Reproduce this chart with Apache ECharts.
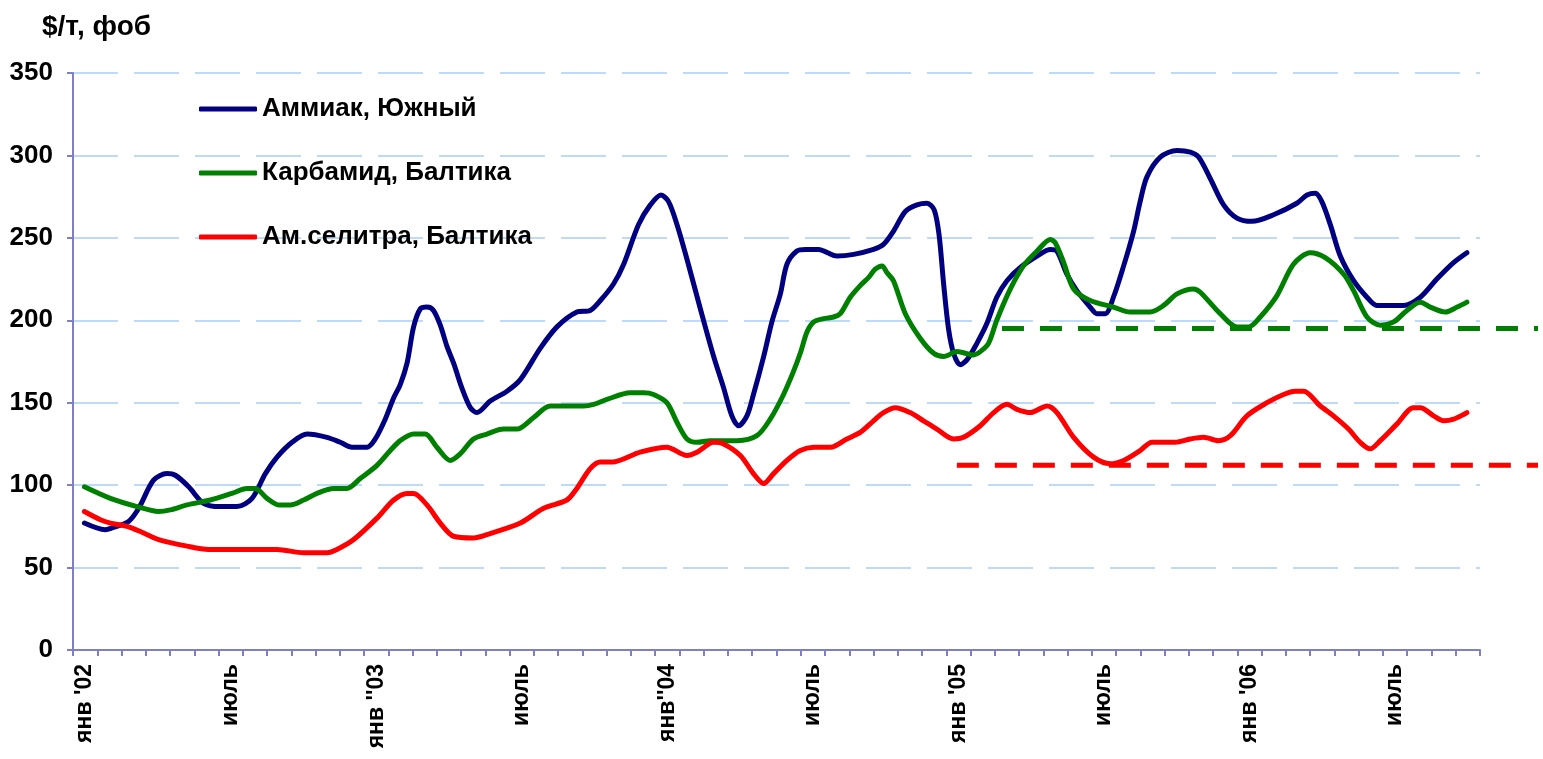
<!DOCTYPE html>
<html>
<head>
<meta http-equiv="content-type" content="text/html; charset=utf-8"/>
<title>Цены на азотные удобрения</title>
<style type="text/css">
    html, body { margin: 0; padding: 0; background: #fff; }
    #chart { width: 1543px; height: 759px; }
</style>
<script type="text/javascript" src="https://cdn.jsdelivr.net/npm/echarts@6/dist/echarts.min.js"></script>
</head>
<body>
<div id="chart"></div>
<script>
    // month categories Jan'02 .. Oct'06, only some are labelled
    var monthLabels = [
        "янв '02", "", "", "", "", "", "июль", "", "", "", "", "",
        "янв ''03", "", "", "", "", "", "июль", "", "", "", "", "",
        "янв''04", "", "", "", "", "", "июль", "", "", "", "", "",
        "янв '05", "", "", "", "", "", "июль", "", "", "", "", "",
        "янв '06", "", "", "", "", "", "июль", "", "", ""
    ];
    var yTicks = [0, 50, 100, 150, 200, 250, 300, 350];
    var seriesNames = ["Аммиак, Южный", "Карбамид, Балтика", "Ам.селитра, Балтика"];

    // [months since start of Jan'02, $/t]
    var ammonia = [
        [0.47,77],[1.33,73],[1.6,74],[2.29,78],[2.71,86],[3.32,103],[3.87,107],[4.22,106],[4.77,99],
        [5.38,89],[6.07,87],[6.76,87],[7.38,92],[7.93,107],[8.41,117],[9.03,126],[9.65,131],[10.47,129],
        [11.02,126],[11.5,123],[12.12,123],[12.46,128],[12.87,140],[13.22,153],[13.49,161],[13.77,174],
        [14.04,196],[14.32,207],[14.59,208],[14.86,206],[15.14,197],[15.42,184],[15.69,174],[16.03,159],
        [16.38,147],[16.65,144],[17.2,151],[17.89,157],[18.44,164],[19.26,183],[19.95,196],[20.77,205],
        [21.32,206],[21.74,212],[22.28,222],[22.7,234],[23.31,258],[23.8,270],[24.24,276],[24.55,272],
        [24.9,258],[25.31,237],[25.86,207],[26.41,178],[26.82,159],[27.16,142],[27.44,136],[27.78,142],
        [28.05,155],[28.47,178],[28.81,199],[29.16,216],[29.43,234],[29.84,242],[30.2,243],[30.73,243],
        [31.49,239],[32.18,240],[33.0,243],[33.41,246],[33.82,254],[34.31,266],[34.79,270],[35.2,271],
        [35.5,267],[35.7,252],[35.89,222],[36.09,195],[36.3,180],[36.57,173],[36.85,176],[37.26,186],
        [37.67,198],[38.08,214],[38.5,224],[39.05,232],[39.74,239],[40.29,243],[40.56,242],[40.97,228],
        [41.38,218],[41.93,208],[42.21,204],[42.55,204],[42.89,214],[43.31,233],[43.72,254],[43.99,272],
        [44.27,287],[44.82,299],[45.51,303],[46.06,302],[46.4,299],[46.88,286],[47.43,270],[47.98,262],
        [48.6,260],[49.49,264],[50.45,271],[50.87,276],[51.21,277],[51.48,272],[51.83,258],[52.24,239],
        [52.79,224],[53.34,214],[53.75,209],[54.85,209],[55.54,214],[56.22,225],[56.91,235],[57.46,241]
    ];
    var urea = [
        [0.47,99],[1.54,92],[2.64,87],[3.53,84],[4.01,85],[4.7,88],[5.66,91],[6.55,95],[7.17,98],
        [7.51,98],[8.0,92],[8.48,88],[8.96,88],[9.51,91],[10.06,95],[10.74,98],[11.29,98],[11.84,104],
        [12.53,112],[13.08,121],[13.49,127],[14.04,131],[14.52,131],[15.0,123],[15.55,115],[15.96,119],
        [16.51,128],[17.06,131],[17.75,134],[18.3,134],[18.99,141],[19.67,148],[21.05,148],[21.46,149],
        [22.01,152],[22.97,156],[23.52,156],[23.93,155],[24.48,150],[24.9,138],[25.31,128],[25.72,126],
        [26.27,127],[27.37,127],[28.19,130],[28.74,140],[29.29,155],[29.7,169],[29.98,180],[30.26,193],
        [30.53,199],[30.94,201],[31.35,202],[31.63,204],[32.04,214],[32.45,221],[32.8,226],[33.07,231],
        [33.35,233],[33.55,229],[33.82,224],[34.31,204],[34.93,189],[35.48,180],[35.89,178],[36.44,181],
        [37.12,179],[37.4,181],[37.74,186],[38.08,200],[38.64,219],[39.18,233],[39.74,242],[40.29,249],
        [40.49,247],[40.84,235],[41.25,219],[41.93,212],[42.89,208],[43.58,205],[44.4,205],[44.96,209],
        [45.51,216],[46.19,219],[46.47,217],[47.29,204],[47.98,196],[48.46,196],[48.94,202],[49.63,215],
        [50.31,234],[51.0,241],[51.62,238],[52.38,228],[52.79,218],[53.34,202],[53.89,197],[54.44,199],
        [54.99,206],[55.54,211],[55.95,208],[56.57,205],[57.06,208],[57.46,211]
    ];
    var nitrate = [
        [0.47,84],[1.13,79],[1.54,77],[2.23,75],[2.91,71],[3.53,67],[4.7,63],[5.59,61],[8.41,61],
        [9.51,59],[10.47,59],[10.88,61],[11.57,67],[12.53,80],[13.22,91],[13.77,95],[14.04,95],[14.59,88],
        [15.14,77],[15.69,69],[16.51,68],[17.06,70],[18.44,77],[19.4,86],[20.36,91],[20.77,98],[21.32,110],
        [21.74,114],[22.22,114],[23.38,120],[24.48,123],[25.31,118],[25.72,120],[26.41,126],[26.82,125],
        [27.51,118],[28.05,107],[28.47,101],[28.88,107],[29.43,115],[29.98,121],[30.53,123],[31.22,123],
        [31.9,128],[32.45,132],[33.0,139],[33.41,144],[33.9,147],[34.51,144],[35.06,139],[35.61,134],
        [36.3,128],[36.71,129],[37.4,136],[37.95,144],[38.5,149],[38.91,146],[39.46,144],[40.15,148],
        [40.56,144],[41.25,129],[42.07,117],[42.76,113],[43.31,115],[43.99,121],[44.48,126],[45.44,126],
        [46.06,128],[46.6,129],[47.22,127],[47.71,130],[48.39,142],[49.22,150],[49.9,155],[50.38,157],
        [50.73,157],[51.42,148],[51.96,142],[52.58,134],[53.06,126],[53.47,122],[53.89,127],[54.57,137],
        [55.26,147],[55.54,147],[56.09,142],[56.5,139],[56.91,140],[57.46,144]
    ];
    // dashed reference levels, running past the last month to the page edge
    var levelEnd = 60.4;
    var ureaLevel = [[38.3,195],[levelEnd,195]];
    var nitrateLevel = [[36.44,112],[levelEnd,112]];

    var axisColor = "#8080c0";
    var font = "Liberation Sans, Arial, sans-serif";

    var chart = echarts.init(document.getElementById("chart"));

    function lineSeries(name, data, color, dashed){
        return {
            name: name,
            type: "line",
            xAxisIndex: dashed ? 2 : 1,
            yAxisIndex: dashed ? 1 : 0,
            data: data,
            symbol: "none",
            smooth: dashed ? false : 0.3,
            clip: false,
            silent: true,
            lineStyle: { color: color, width: 5, type: dashed ? [22, 16] : "solid", cap: dashed ? "butt" : "round", join: "round" },
            itemStyle: { color: color }
        };
    }

    var option = {
        animation: false,
        backgroundColor: "#fff",
        title: {
            text: "$/т, фоб",
            left: 37,
            top: 8,
            textStyle: { fontFamily: font, fontWeight: "bold", fontSize: 28, color: "#000" }
        },
        legend: {
            data: seriesNames,
            orient: "vertical",
            left: 194,
            top: 91,
            itemWidth: 58,
            itemHeight: 5,
            itemGap: 38,
            icon: "roundRect",
            textStyle: { fontFamily: font, fontWeight: "bold", fontSize: 26, lineHeight: 26, color: "#000" }
        },
        grid: [
            { left: 73, right: 63, top: 73, bottom: 109 },
            // wider twin grid for the dashed levels, same scale per month
            { left: 73, right: 5, top: 73, bottom: 109 }
        ],
        xAxis: [
            {
                type: "category",
                gridIndex: 0,
                data: monthLabels,
                boundaryGap: true,
                axisLine: { lineStyle: { color: axisColor, width: 2 } },
                axisTick: { show: true, interval: 0, length: 6, lineStyle: { color: axisColor, width: 2 } },
                axisLabel: {
                    interval: 0,
                    rotate: 90,
                    margin: 14,
                    fontFamily: font,
                    fontWeight: "bold",
                    fontSize: 23,
                    color: "#000"
                },
                splitLine: { show: false }
            },
            {
                type: "value",
                gridIndex: 0,
                min: 0,
                max: monthLabels.length,
                show: false,
                splitLine: { show: false }
            },
            {
                type: "value",
                gridIndex: 1,
                min: 0,
                max: levelEnd,
                show: false,
                splitLine: { show: false }
            }
        ],
        yAxis: [
            {
                type: "value",
                gridIndex: 0,
                min: yTicks[0],
                max: yTicks[yTicks.length - 1],
                interval: 50,
                axisLine: { show: true, lineStyle: { color: axisColor, width: 2 } },
                axisTick: { show: true, length: 6, lineStyle: { color: axisColor, width: 2 } },
                axisLabel: {
                    margin: 20,
                    fontFamily: font,
                    fontWeight: "bold",
                    fontSize: 26,
                    color: "#000"
                },
                splitLine: { show: true, lineStyle: { color: "#a8d0f8", width: 1.5, type: [45, 16] } }
            },
            {
                type: "value",
                gridIndex: 1,
                min: yTicks[0],
                max: yTicks[yTicks.length - 1],
                show: false,
                splitLine: { show: false }
            }
        ],
        series: [
            lineSeries(seriesNames[0], ammonia, "#000080", false),
            lineSeries(seriesNames[1], urea, "#008000", false),
            lineSeries(seriesNames[2], nitrate, "#ff0000", false),
            lineSeries("ureaLevel", ureaLevel, "#008000", true),
            lineSeries("nitrateLevel", nitrateLevel, "#ff0000", true)
        ]
    };

    chart.setOption(option);
</script>
</body>
</html>
